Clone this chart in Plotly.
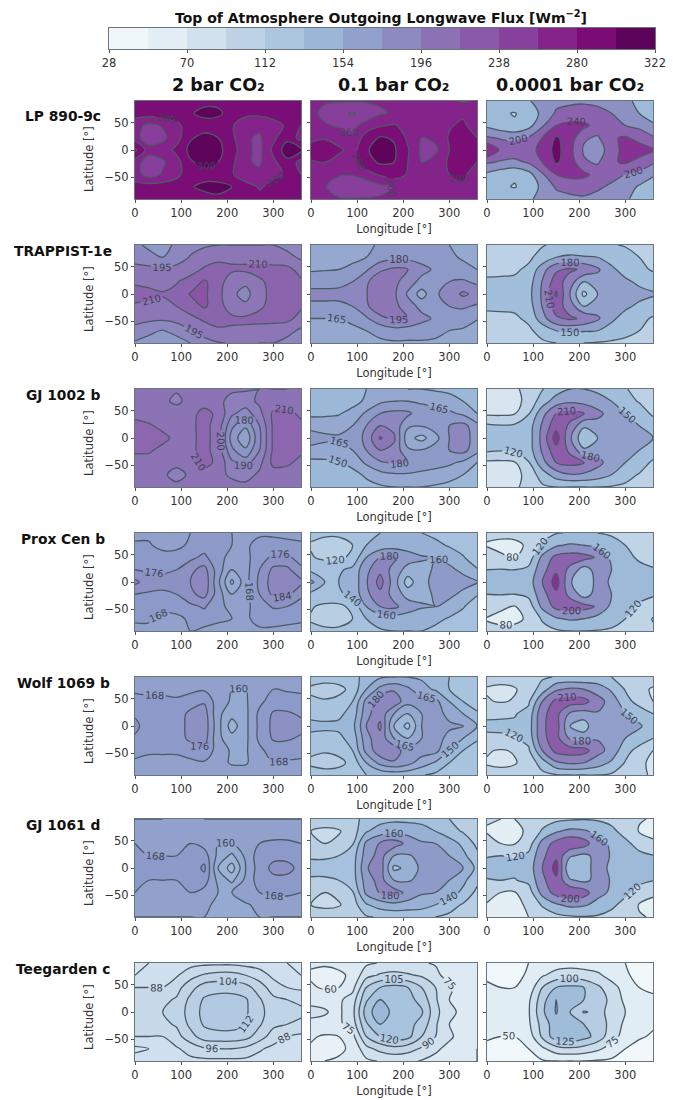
import plotly.graph_objects as go

# ---------- axes of the data ----------
longitudes = [0, 30, 60, 90, 120, 150, 180, 210, 240, 270, 300, 330, 360]
latitudes = [90, 67.5, 45, 22.5, 0, -22.5, -45, -67.5, -90]
planets = ["LP 890-9c", "TRAPPIST-1e", "GJ 1002 b", "Prox Cen b", "Wolf 1069 b", "GJ 1061 d", "Teegarden c"]
pressures = ["2 bar CO₂", "0.1 bar CO₂", "0.0001 bar CO₂"]
cbar_ticks = [28, 70, 112, 154, 196, 238, 280, 322]
cbar_edges = [28, 49, 70, 91, 112, 133, 154, 175, 196, 217, 238, 259, 280, 301, 322]
bupu = ["#f7fcfd", "#e0ecf4", "#bfd3e6", "#9ebcda", "#8c96c6", "#8c6bb1", "#88419d", "#810f7c", "#4d004b"]

# ---------- flux grids (rows follow latitudes, columns follow longitudes) ----------
lp_2 = [
 [285,285,285,285,290,295,295,290,285,285,285,285,285],
 [288,290,290,290,298,305,304,292,285,285,285,285,288],
 [268,255,262,275,290,292,290,282,268,264,275,282,280],
 [270,245,255,272,298,305,300,285,262,258,275,295,272],
 [305,270,270,285,305,312,305,290,265,255,285,310,305],
 [270,248,257,272,298,305,300,285,262,258,275,295,272],
 [268,252,262,275,290,292,290,282,268,264,275,282,280],
 [288,290,290,290,298,305,306,300,288,278,285,285,288],
 [285,285,285,285,290,292,296,296,290,285,285,285,285]]
lp_01 = [
 [262,262,262,262,262,262,262,262,262,262,262,258,262],
 [265,255,245,238,248,258,262,265,265,268,272,276,265],
 [262,262,258,255,268,278,282,272,266,268,278,284,268],
 [275,278,268,262,290,302,298,276,260,265,282,288,280],
 [288,292,285,270,298,308,303,282,256,256,280,288,288],
 [278,280,270,272,292,303,300,280,260,268,283,288,280],
 [265,268,262,262,272,282,290,278,268,270,280,284,268],
 [268,262,248,240,245,255,260,263,263,266,272,276,268],
 [262,262,262,262,262,262,262,262,262,262,262,262,262]]
lp_0001 = [
 [155,152,152,158,170,190,192,195,192,180,170,150,150],
 [140,125,118,135,170,205,215,215,210,200,185,160,145],
 [152,135,125,145,195,240,252,250,225,210,200,190,165],
 [205,195,190,205,240,285,262,205,195,235,245,225,205],
 [285,232,225,228,250,295,252,195,185,215,260,262,245],
 [205,195,190,205,240,285,262,205,195,235,245,225,205],
 [152,135,125,145,195,240,252,250,225,210,200,190,165],
 [140,125,118,135,170,205,215,215,205,195,180,155,140],
 [150,150,150,155,170,185,190,195,190,175,165,148,145]]
tr_2 = [
 [182,178,176,182,190,193,195,195,195,195,195,190,182],
 [190,183,180,187,196,202,206,206,206,205,203,200,192],
 [199,200,197,200,204,212,216,213,213,214,214,214,205],
 [208,205,206,209,216,227,218,200,198,208,214,216,212],
 [215,215,211,214,226,228,215,198,190,205,215,217,215],
 [208,206,207,210,218,227,218,200,198,208,214,216,212],
 [200,199,198,200,206,213,217,214,213,214,214,214,205],
 [190,183,179,186,194,201,207,207,207,205,204,200,192],
 [178,175,172,172,180,190,194,196,196,195,195,190,180]]
tr_01 = [
 [155,155,155,158,162,167,170,170,170,168,165,162,157],
 [157,157,157,160,165,172,176,176,175,172,168,163,158],
 [163,164,165,170,178,192,198,195,184,178,175,170,165],
 [175,175,176,180,192,208,200,186,176,178,180,182,177],
 [184,184,184,186,194,210,198,178,158,178,186,198,190],
 [177,177,177,180,192,208,200,186,176,178,180,182,178],
 [165,165,165,170,178,190,198,196,184,178,175,172,166],
 [157,157,158,160,165,170,174,172,172,170,165,163,158],
 [155,155,155,156,160,162,163,163,163,162,160,158,156]]
tr_0001 = [
 [110,110,110,112,118,125,128,128,125,122,118,112,110],
 [110,110,110,115,130,150,155,152,150,140,130,120,112],
 [115,115,116,125,168,205,215,205,185,155,140,125,118],
 [123,124,125,135,182,225,195,150,165,165,155,145,130],
 [135,138,135,140,185,245,178,112,150,165,160,158,155],
 [123,124,125,135,182,225,195,150,165,165,155,145,130],
 [115,115,116,125,168,205,215,205,185,155,140,125,118],
 [110,110,110,115,130,150,155,152,150,140,130,120,112],
 [110,110,110,112,116,120,122,120,118,115,112,110,110]]
gj02_2 = [
 [204,203,202,201,203,202,203,202,201,200,200,200,204],
 [205,203,202,198,203,206,203,196,196,202,205,204,205],
 [208,206,207,205,207,213,208,192,185,197,212,213,208],
 [212,211,208,207,208,213,206,182,172,190,212,214,212],
 [213,214,212,208,207,214,205,176,162,188,212,214,213],
 [212,211,208,206,208,213,206,182,172,190,212,214,212],
 [205,207,206,203,207,213,208,192,186,197,213,212,207],
 [204,203,202,196,202,206,203,198,196,202,205,205,204],
 [204,204,204,203,203,203,204,204,203,203,203,204,204]]
gj02_01 = [
 [145,145,145,146,150,152,152,150,150,148,147,145,145],
 [140,142,143,146,152,162,165,165,163,160,155,150,142],
 [148,148,149,154,168,180,184,183,172,170,168,162,150],
 [155,156,157,165,180,195,190,168,166,172,180,185,170],
 [180,170,168,168,185,212,198,155,145,160,180,185,175],
 [155,156,157,165,180,195,190,168,166,172,180,185,170],
 [148,148,149,154,168,178,182,180,172,170,168,162,150],
 [140,142,143,146,152,160,163,163,162,160,155,150,142],
 [142,142,142,144,146,148,150,150,150,148,146,144,142]]
gj02_0001 = [
 [85,84,85,100,118,135,150,150,145,135,122,110,100],
 [80,78,80,100,135,165,175,170,160,150,130,118,105],
 [85,84,88,118,170,210,220,212,190,165,150,135,115],
 [125,122,125,135,185,230,205,155,165,170,165,150,135],
 [140,145,130,135,190,255,185,125,150,170,170,165,150],
 [125,122,125,135,185,230,205,155,165,170,165,150,135],
 [85,84,88,118,170,210,220,212,190,165,150,135,115],
 [80,78,80,100,135,165,178,175,165,150,130,118,105],
 [85,85,85,100,115,120,120,120,120,118,115,108,100]]
px_2 = [
 [166,166,166,167,168,169,169,168,168,167,167,166,166],
 [169,169,165,165,170,172,170,168,167,170,170,170,169],
 [174,173,172,173,174,178,170,166,166,172,178,178,172],
 [176,175,174,176,182,187,172,160,165,176,186,186,178],
 [186,180,180,180,184,190,170,150,165,178,188,188,186],
 [176,175,174,176,182,187,172,160,165,176,186,186,178],
 [172,172,172,173,174,177,170,166,166,172,177,176,172],
 [169,169,165,165,170,172,170,168,167,170,170,170,169],
 [166,166,166,167,168,166,164,164,164,167,167,166,166]]
px_01 = [
 [125,125,125,128,135,140,141,141,140,135,130,125,125],
 [118,110,110,120,140,148,150,150,148,145,138,130,125],
 [122,115,115,125,160,180,185,170,162,160,152,142,125],
 [135,137,137,145,175,195,172,152,155,162,165,155,142],
 [165,140,140,145,178,208,170,130,155,165,168,168,162],
 [135,137,137,145,175,195,172,152,155,162,165,155,142],
 [122,115,115,125,160,180,185,170,162,160,152,142,125],
 [118,110,110,120,140,148,150,150,148,145,138,130,125],
 [125,125,125,128,135,138,140,140,140,135,130,125,125]]
px_0001 = [
 [85,88,90,95,105,118,122,122,120,115,108,95,85],
 [78,72,72,85,125,155,165,160,150,135,120,100,82],
 [95,85,78,98,170,212,220,215,195,150,130,115,100],
 [120,122,120,130,185,232,190,140,178,160,140,130,125],
 [135,135,135,140,200,258,165,125,175,155,150,145,140],
 [120,122,120,130,185,232,190,140,178,160,140,130,125],
 [95,85,78,98,170,212,220,215,195,150,130,115,100],
 [78,72,72,85,125,155,165,160,145,135,120,100,78],
 [88,88,90,95,105,115,120,120,118,115,105,95,85]]
wf_2 = [
 [165,165,165,165,165,165,165,165,165,165,165,165,165],
 [167,166,166,166,166,167,163,160,160,165,168,167,167],
 [170,170,170,169,172,175,164,159,159,166,172,172,170],
 [175,172,172,172,178,180,162,155,158,170,177,177,175],
 [178,172,172,173,178,181,163,148,158,170,178,178,178],
 [175,172,172,172,178,180,162,155,158,170,177,177,175],
 [170,169,169,169,172,175,164,159,159,166,172,172,170],
 [167,166,166,166,166,167,163,159,159,165,168,167,167],
 [165,165,165,165,165,165,165,165,165,165,165,165,165]]
wf_01 = [
 [125,128,128,130,140,148,150,150,148,140,135,128,125],
 [118,112,115,125,150,170,178,168,155,148,135,125,120],
 [122,122,125,135,170,190,190,170,172,170,150,135,125],
 [130,130,132,140,175,190,165,150,165,172,160,150,138],
 [140,138,138,145,180,198,148,130,165,172,168,166,150],
 [130,130,132,140,175,190,165,150,165,172,160,150,138],
 [122,122,125,135,170,190,190,170,172,170,150,135,125],
 [118,112,115,125,150,170,178,170,158,148,135,125,120],
 [125,128,128,130,135,138,140,140,136,132,130,128,125]]
wf_0001 = [
 [98,98,100,105,115,122,125,125,125,120,112,100,98],
 [88,85,88,100,135,175,185,180,170,145,118,95,88],
 [92,88,92,115,180,220,225,222,190,170,130,110,90],
 [115,116,118,130,205,220,175,165,178,175,150,135,120],
 [125,125,125,135,205,225,150,135,178,175,160,155,132],
 [115,116,118,130,205,220,175,165,178,175,150,135,120],
 [92,88,92,115,180,220,225,222,190,170,130,110,90],
 [88,85,88,100,135,175,185,180,165,145,118,95,85],
 [98,98,100,105,112,118,120,120,120,116,110,98,85]]
gj61_2 = [
 [160,160,160,161,161,160,160,160,160,160,160,160,160],
 [162,162,162,163,164,164,162,162,162,162,163,163,162],
 [168,165,165,167,168,165,160,160,165,168,170,170,168],
 [170,168,168,168,170,172,158,150,162,172,174,174,172],
 [172,170,170,169,170,178,152,140,160,172,178,178,174],
 [170,168,168,168,170,172,158,150,162,172,174,174,172],
 [168,165,165,167,168,165,160,160,165,168,170,170,168],
 [162,162,162,163,163,161,159,159,159,162,163,163,162],
 [160,160,160,160,160,160,160,160,160,160,160,160,160]]
gj61_01 = [
 [112,112,112,115,125,132,135,135,132,125,120,115,112],
 [100,95,98,110,138,150,155,152,150,140,128,118,105],
 [105,100,105,118,165,182,190,175,162,160,150,135,115],
 [118,118,120,130,170,188,160,158,165,165,160,145,125],
 [125,125,122,130,178,192,135,145,165,165,165,160,135],
 [118,118,120,130,170,188,160,158,165,165,160,145,125],
 [105,100,105,118,165,182,190,175,162,160,150,135,115],
 [100,95,98,110,138,150,155,152,150,140,128,118,105],
 [112,112,112,114,118,122,124,124,122,120,116,114,112]]
gj61_0001 = [
 [82,80,80,88,100,110,115,118,115,108,95,82,78],
 [78,70,72,85,125,155,170,165,150,130,105,78,72],
 [90,80,78,100,175,215,235,220,170,155,130,105,85],
 [118,120,118,130,190,232,165,150,172,158,145,130,122],
 [132,135,130,138,200,255,120,150,170,155,145,140,135],
 [118,120,118,130,190,232,165,150,172,158,145,130,122],
 [90,80,78,100,175,215,235,220,170,155,130,105,85],
 [78,70,72,85,125,155,170,165,150,130,105,78,72],
 [78,76,76,80,95,108,115,118,115,105,92,82,78]]
tg_2 = [
 [80,80,81,83,85,86,86,86,85,84,82,80,78],
 [80,82,84,87,93,97,99,99,96,92,86,83,80],
 [88,88,88,93,101,108,109,109,107,100,92,88,86],
 [94,94,94,97,106,113,115,115,113,105,98,96,95],
 [96,96,96,98,108,114,116,115,113,107,99,97,97],
 [94,94,94,97,106,113,115,115,113,105,98,96,95],
 [88,88,88,93,101,108,109,109,107,100,92,88,86],
 [78,80,84,87,91,95,96,96,94,89,86,83,80],
 [84,84,84,85,86,86,86,86,86,85,84,84,84]]
tg_01 = [
 [62,62,64,66,72,76,78,78,76,74,70,66,62],
 [58,55,57,63,85,92,95,92,88,78,70,62,60],
 [62,58,60,70,105,120,125,120,105,90,78,68,62],
 [70,72,72,82,118,135,132,125,115,92,75,68,68],
 [80,76,72,85,128,145,130,120,122,95,78,72,72],
 [70,72,72,82,118,135,132,125,115,92,75,68,68],
 [62,58,60,70,105,120,128,125,105,90,78,68,62],
 [58,55,57,63,85,95,100,96,88,78,70,62,60],
 [58,60,62,64,72,76,78,78,74,70,66,62,60]]
tg_0001 = [
 [50,48,48,50,55,62,64,64,60,55,50,47,45],
 [48,46,46,52,72,85,90,85,80,65,52,46,44],
 [52,50,50,58,100,125,130,125,105,85,65,50,48],
 [58,58,58,70,115,150,135,125,120,90,70,55,52],
 [60,60,60,72,120,152,125,98,105,95,75,58,50],
 [58,58,58,70,110,140,135,125,118,90,70,55,52],
 [52,50,50,60,105,140,148,135,115,85,65,52,48],
 [46,44,45,50,70,90,95,90,80,65,50,44,42],
 [42,42,42,44,48,50,50,50,48,46,44,42,40]]

panels = [[lp_2, lp_01, lp_0001], [tr_2, tr_01, tr_0001], [gj02_2, gj02_01, gj02_0001],
          [px_2, px_01, px_0001], [wf_2, wf_01, wf_0001], [gj61_2, gj61_01, gj61_0001], [tg_2, tg_01, tg_0001]]
# contour start, end, step for each panel
levels = [[(200, 320, 20), (200, 320, 20), (120, 280, 40)],
          [(180, 225, 15), (150, 210, 15), (120, 240, 30)],
          [(160, 210, 10), (150, 210, 15), (90, 240, 30)],
          [(152, 184, 8), (120, 200, 20), (80, 240, 40)],
          [(152, 176, 8), (120, 195, 15), (90, 210, 30)],
          [(144, 176, 8), (100, 180, 20), (80, 240, 40)],
          [(80, 112, 8), (60, 135, 15), (50, 150, 25)]]
ZMIN, ZMAX = 28, 322


def hex_rgb(h):
    return tuple(int(h[i:i + 2], 16) for i in (1, 3, 5))


def flux_color(v):
    """Colour of flux v on the shared BuPu scale."""
    t = min(max((v - ZMIN) / (ZMAX - ZMIN), 0), 1) * (len(bupu) - 1)
    i = min(int(t), len(bupu) - 2)
    a, b = hex_rgb(bupu[i]), hex_rgb(bupu[i + 1])
    f = t - i
    return "rgb(%d,%d,%d)" % tuple(round(a[k] + (b[k] - a[k]) * f) for k in range(3))


def panel_scale(start, end, step):
    """Plotly stretches a contour colorscale over its own levels; pin every band to the shared scale."""
    bands = round((end - start) / step) + 1
    return [[i / bands, flux_color(start + (i - 0.5) * step)] for i in range(bands + 1)]


# ---------- layout in pixels ----------
W, H = 694, 1100
col_px = [(135, 301), (311, 477), (487, 653)]
row_px = [(101, 199), (245, 343), (389, 487), (533, 631), (677, 775), (819, 917), (963, 1061)]
FONT = "DejaVu Sans"
TXT = "#333333"
TICK = 11.5
global_scale = [[i / (len(bupu) - 1), c] for i, c in enumerate(bupu)]

fig = go.Figure()
layout = dict(width=W, height=H, autosize=False, margin=dict(l=0, r=0, t=0, b=0, autoexpand=False),
              paper_bgcolor="white", plot_bgcolor="white", showlegend=False,
              font=dict(family=FONT, size=TICK, color=TXT))
annotations = []
n = 0
for r, row in enumerate(panels):
    for c, grid in enumerate(row):
        n += 1
        sfx = "" if n == 1 else str(n)
        s, e, st = levels[r][c]
        fig.add_trace(go.Contour(
            x=longitudes, y=latitudes, z=grid, xaxis="x" + sfx, yaxis="y" + sfx,
            colorscale=panel_scale(s, e, st), showscale=False, hoverinfo="skip",
            autocontour=False,
            contours=dict(start=s, end=e, size=st, coloring="fill", showlabels=True,
                          labelfont=dict(family=FONT, size=10, color="#3c4450")),
            line=dict(color="#4c5a66", width=1.3, smoothing=1.0)))
        x0, x1 = col_px[c]
        y0, y1 = row_px[r]
        xax = dict(domain=[x0 / W, x1 / W], anchor="y" + sfx, range=[0, 360], automargin=False,
                   tickvals=[0, 100, 200, 300], ticks="outside", ticklen=3, tickwidth=1,
                   tickcolor="#555", showgrid=False, zeroline=False, mirror=True,
                   showline=True, linecolor="#6a7480", linewidth=1, tickfont=dict(size=TICK, color=TXT))
        if c == 1:
            xax["title"] = dict(text="Longitude [°]", standoff=6, font=dict(size=TICK, color=TXT))
        yax = dict(domain=[1 - y1 / H, 1 - y0 / H], anchor="x" + sfx, range=[-90, 90], automargin=False,
                   tickvals=[-50, 0, 50], ticks="outside", ticklen=3, tickwidth=1,
                   tickcolor="#555", showgrid=False, zeroline=False, mirror=True,
                   showline=True, linecolor="#6a7480", linewidth=1,
                   showticklabels=c == 0, tickfont=dict(size=TICK, color=TXT))
        layout["xaxis" + sfx] = xax
        layout["yaxis" + sfx] = yax
    name_y = row_px[r][0] + (15 if r == 0 else 6)
    annotations.append(dict(text="<b>%s</b>" % planets[r], xref="paper", yref="paper", x=63 / W, y=1 - name_y / H,
                            xanchor="center", yanchor="middle", showarrow=False,
                            font=dict(size=13.8, color="#111111", family=FONT)))
    lat_y = (row_px[r][0] + row_px[r][1]) / 2 + (9 if r == 0 else 5)
    annotations.append(dict(text="Latitude [°]", xref="paper", yref="paper", x=89 / W, y=1 - lat_y / H,
                            xanchor="center", yanchor="middle", showarrow=False, textangle=-90,
                            font=dict(size=TICK, color=TXT, family=FONT)))

# colour bar drawn as its own small axis
n += 1
mids = [[(a + b) / 2 for a, b in zip(cbar_edges[:-1], cbar_edges[1:])]]
fig.add_trace(go.Heatmap(x=cbar_edges, y=[0, 1], z=mids, colorscale=global_scale, zmin=ZMIN, zmax=ZMAX,
                         showscale=False, hoverinfo="skip", xaxis="x%d" % n, yaxis="y%d" % n))
layout["xaxis%d" % n] = dict(domain=[109 / W, 655 / W], anchor="y%d" % n, range=[28, 322], tickvals=cbar_ticks,
                             ticks="outside", ticklen=3, tickcolor="#555", showgrid=False, zeroline=False,
                             showline=True, mirror=True, linecolor="#6a7480", tickfont=dict(size=TICK, color=TXT))
layout["yaxis%d" % n] = dict(domain=[1 - 49 / H, 1 - 28 / H], anchor="x%d" % n, range=[0, 1], showticklabels=False,
                             ticks="", showgrid=False, zeroline=False, showline=True, mirror=True, linecolor="#6a7480")

annotations.append(dict(text="<b>Top of Atmosphere Outgoing Longwave Flux [Wm<sup>−2</sup>]</b>", xref="paper",
                        yref="paper", x=381 / W, y=1 - 17 / H, xanchor="center", yanchor="middle", showarrow=False,
                        font=dict(size=14, color="#111111", family=FONT)))
for (x0, x1), label in zip(col_px, pressures):
    annotations.append(dict(text="<b>%s</b>" % label, xref="paper", yref="paper", x=(x0 + x1) / 2 / W, y=1 - 85 / H,
                            xanchor="center", yanchor="middle", showarrow=False,
                            font=dict(size=17.5, color="#111111", family=FONT)))
layout["annotations"] = annotations
fig.update_layout(**layout)
fig.write_html("out.html", post_script="document.body.style.margin='0';",
               config={"displayModeBar": False})
